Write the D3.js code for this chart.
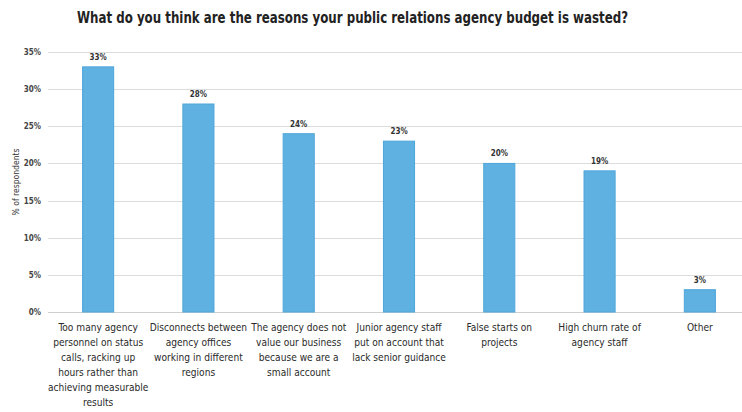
<!DOCTYPE html>
<html>
<head>
<meta charset="utf-8">
<script src="https://cdn.jsdelivr.net/npm/d3@7"></script>
<style>
  html, body { margin: 0; padding: 0; background: #ffffff; }
  svg { display: block; }
  .cond { font-family: "DejaVu Sans Condensed", "DejaVu Sans", sans-serif; font-stretch: condensed; }
</style>
</head>
<body>
<svg id="chart" width="742" height="412"></svg>
<script>
// Survey answers: share of respondents per reason
const categories = [
  "Too many agency personnel on status calls, racking up hours rather than achieving measurable results",
  "Disconnects between agency offices working in different regions",
  "The agency does not value our business because we are a small account",
  "Junior agency staff put on account that lack senior guidance",
  "False starts on projects",
  "High churn rate of agency staff",
  "Other"
];
const categoryLines = [
  ["Too many agency", "personnel on status", "calls, racking up", "hours rather than", "achieving measurable", "results"],
  ["Disconnects between", "agency offices", "working in different", "regions"],
  ["The agency does not", "value our business", "because we are a", "small account"],
  ["Junior agency staff", "put on account that", "lack senior guidance"],
  ["False starts on", "projects"],
  ["High churn rate of", "agency staff"],
  ["Other"]
];
const values = [33, 28, 24, 23, 20, 19, 3];
const yTicks = [0, 5, 10, 15, 20, 25, 30, 35];
const titleText = "What do you think are the reasons your public relations agency budget is wasted?";
const yAxisTitle = "% of respondents";

const svg = d3.select("#chart");

const plot = { left: 48, right: 750, top: 52, bottom: 312 };

const x = d3.scaleBand()
  .domain(categories)
  .range([plot.left, plot.right])
  .paddingInner(0.69)
  .paddingOuter(0.345);

const y = d3.scaleLinear()
  .domain([0, 35])
  .range([plot.bottom, plot.top]);

// Title
svg.append("text")
  .attr("class", "cond")
  .attr("x", 77)
  .attr("y", 23)
  .attr("textLength", 551)
  .attr("lengthAdjust", "spacingAndGlyphs")
  .style("font-size", "15px")
  .style("font-weight", "bold")
  .style("fill", "#222")
  .text(titleText);

// Horizontal gridlines
svg.append("g")
  .selectAll("line")
  .data(yTicks)
  .join("line")
  .attr("x1", plot.left)
  .attr("x2", 742)
  .attr("y1", d => Math.round(y(d)) + 0.5)
  .attr("y2", d => Math.round(y(d)) + 0.5)
  .attr("stroke", d => d === 0 ? "#cfcfcf" : "#dcdcdc")
  .attr("stroke-width", 1.2);

// Y axis tick labels
const yAxis = d3.axisLeft(y)
  .tickValues(yTicks)
  .tickFormat(d => d + "%")
  .tickSize(0)
  .tickPadding(0);

const yG = svg.append("g")
  .attr("transform", `translate(41,0)`)
  .call(yAxis);
yG.select(".domain").remove();
yG.selectAll("text")
  .attr("class", "cond")
  .style("font-size", "8px")
  .style("font-weight", "bold")
  .style("fill", "#444");

// Y axis title
svg.append("text")
  .attr("class", "cond")
  .attr("transform", `translate(19,${(plot.top + plot.bottom) / 2}) rotate(-90)`)
  .attr("text-anchor", "middle")
  .style("font-size", "8.5px")
  .style("fill", "#333")
  .text(yAxisTitle);

// Bars
svg.append("g")
  .selectAll("rect")
  .data(values)
  .join("rect")
  .attr("x", (d, i) => x(categories[i]))
  .attr("y", d => y(d))
  .attr("width", x.bandwidth())
  .attr("height", d => plot.bottom - y(d))
  .attr("fill", "#5eb1e0")
  .attr("stroke", "#4ea6da")
  .attr("stroke-width", 1);

// Value labels
svg.append("g")
  .selectAll("text")
  .data(values)
  .join("text")
  .attr("class", "cond")
  .attr("x", (d, i) => x(categories[i]) + x.bandwidth() / 2)
  .attr("y", d => y(d) - 7)
  .attr("text-anchor", "middle")
  .style("font-size", "8px")
  .style("font-weight", "bold")
  .style("fill", "#333")
  .text(d => d + "%");

// Category labels, wrapped
const catG = svg.append("g")
  .selectAll("text")
  .data(categoryLines)
  .join("text")
  .attr("class", "cond")
  .attr("text-anchor", "middle")
  .style("font-size", "10.1px")
  .style("fill", "#2a2a2a");

catG.each(function(lines, i) {
  const cx = x(categories[i]) + x.bandwidth() / 2;
  d3.select(this).selectAll("tspan")
    .data(lines)
    .join("tspan")
    .attr("x", cx)
    .attr("y", (d, j) => 331 + j * 15)
    .text(d => d);
});
</script>
</body>
</html>
